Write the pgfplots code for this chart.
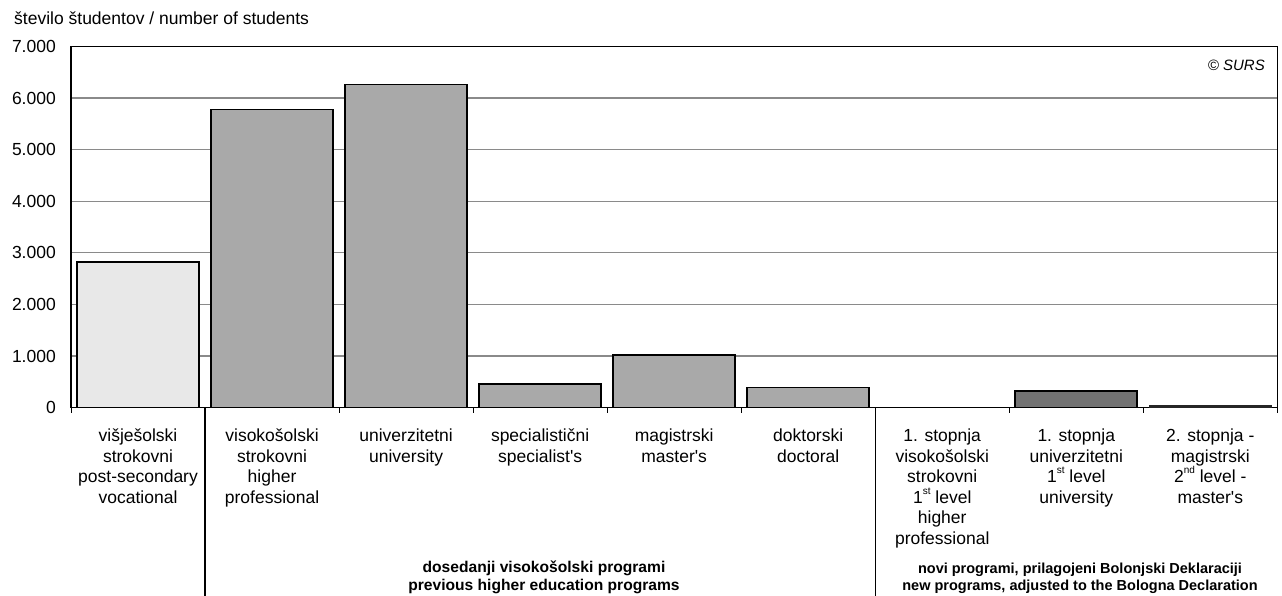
\documentclass[border=0pt]{standalone}
\usepackage{pgfplots}
\pgfplotsset{compat=1.18}
\usepackage{fontspec}
\setmainfont{Liberation Sans}
\definecolor{barlight}{HTML}{E8E8E8}
\definecolor{barmid}{HTML}{A9A9A9}
\definecolor{bardark}{HTML}{727272}
\definecolor{bardarker}{HTML}{3A3A3A}
\definecolor{gridgray}{HTML}{8A8A8A}
\newcommand{\lbl}{\fontsize{17.5}{20.6}\selectfont}
\newcommand{\ap}{\textquotesingle}
\newcommand{\sus}[1]{\raisebox{1.0ex}{\fontsize{10}{10}\selectfont #1}}
\begin{document}
\begin{tikzpicture}
\path[use as bounding box] (0,0) rectangle (1282pt,596pt);
\node[anchor=base west, inner sep=0pt, font=\lbl] at (14pt,571pt) {število študentov / number of students};
\begin{axis}[
  at={(71pt,188.3pt)}, anchor=south west,
  scale only axis, width=1206.3pt, height=361.2pt,
  xmin=0.5, xmax=9.5, ymin=0, ymax=7000,
  clip=false,
  ytick={0,1000,2000,3000,4000,5000,6000,7000},
  yticklabels={0,1.000,2.000,3.000,4.000,5.000,6.000,7.000},
  yticklabel style={font=\lbl, inner sep=0pt, anchor=east, xshift=-15pt},
  xtick={1,2,3,4,5,6,7,8,9},
  minor xtick={0.5,1.5,2.5,3.5,4.5,5.5,6.5,7.5,8.5,9.5},
  xticklabels={
    {višješolski\\strokovni\\post-secondary\\vocational},
    {visokošolski\\strokovni\\higher\\professional},
    {univerzitetni\\university},
    {specialistični\\specialist\ap s},
    {magistrski\\master\ap s},
    {doktorski\\doctoral},
    {1. stopnja\\visokošolski\\strokovni\\1\sus{st} level\\higher\\professional},
    {1. stopnja\\univerzitetni\\1\sus{st} level\\university},
    {2. stopnja -\\magistrski\\2\sus{nd} level -\\master\ap s}},
  xticklabel style={font=\lbl, align=center, inner sep=0pt, anchor=north, yshift=-21pt},
  major tick length=0pt, minor tick length=5pt, tick align=outside,
  xtick pos=bottom, ytick pos=left,
  minor x tick style={black, line width=1pt},
  ymajorgrids, major grid style={gridgray, line width=1.2pt},
  axis line style={black, line width=1.3pt},
]
\addplot[ybar, bar width=0.91, bar shift=0pt, fill=barlight, draw=black, line width=1.6pt] coordinates {(1,2820)};
\addplot[ybar, bar width=0.91, bar shift=0pt, fill=barmid, draw=black, line width=1.6pt] coordinates {(2,5780) (3,6265) (4,462) (5,1021) (6,391)};
\addplot[ybar, bar width=0.91, bar shift=0pt, fill=bardark, draw=black, line width=1.6pt] coordinates {(8,328)};
\addplot[ybar, bar width=0.91, bar shift=0pt, fill=bardarker, draw=black!85, line width=1.6pt] coordinates {(9,35)};
\draw[black, line width=1.3pt] (axis cs:1.5,0) -- ++(0pt,-188.3pt);
\draw[black, line width=1.1pt] (axis cs:6.5,0) -- ++(0pt,-188.3pt);
\end{axis}
\node[anchor=east, inner sep=0pt, font=\itshape\fontsize{15}{18}\selectfont] at (1265pt,531pt) {© SURS};
\node[anchor=south, align=center, inner sep=0pt, font=\bfseries\fontsize{15.6}{17.5}\selectfont] at (544pt,2pt) {dosedanji visokošolski programi\\previous higher education programs};
\node[anchor=south, align=center, inner sep=0pt, font=\bfseries\fontsize{14.5}{17.5}\selectfont] at (1080pt,2pt) {novi programi, prilagojeni Bolonjski Deklaraciji\\new programs, adjusted to the Bologna Declaration};
\end{tikzpicture}
\end{document}
